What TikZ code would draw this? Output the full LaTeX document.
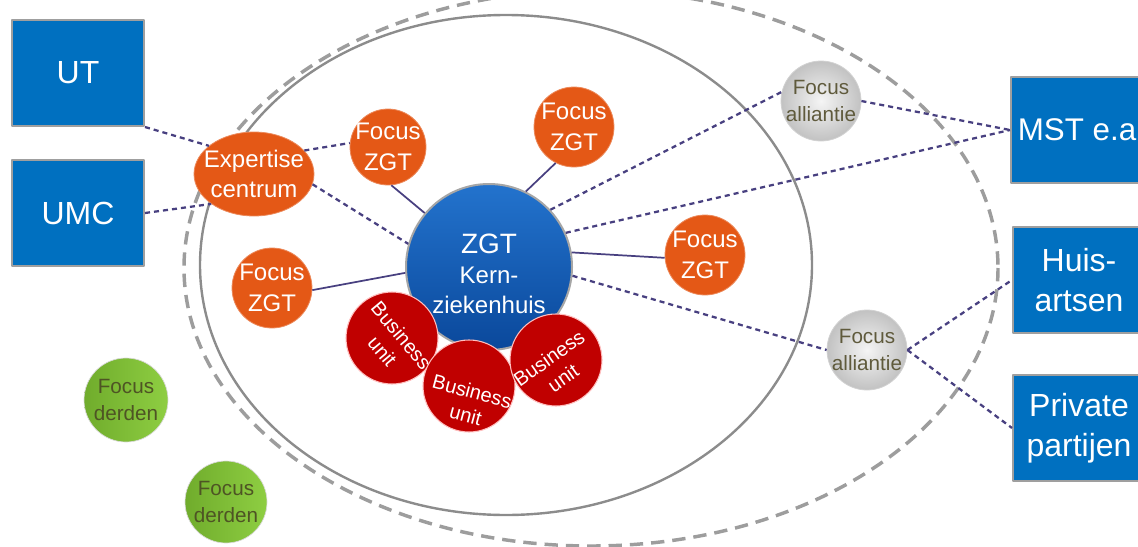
\documentclass[tikz,border=0pt]{standalone}
\usepackage{fontspec}
\setmainfont{Liberation Sans}
\usetikzlibrary{shapes.geometric}

\definecolor{boxblue}{RGB}{0,112,192}
\definecolor{zgttop}{RGB}{35,115,205}
\definecolor{zgtbot}{RGB}{10,72,155}
\definecolor{focusorange}{RGB}{228,88,22}
\definecolor{unitred}{RGB}{192,0,0}
\definecolor{linkpurple}{RGB}{72,64,128}
\definecolor{ringgray}{RGB}{140,140,140}
\definecolor{allytext}{RGB}{95,90,60}
\definecolor{greenlo}{RGB}{112,172,44}
\definecolor{greenhi}{RGB}{142,206,66}
\definecolor{derdentext}{RGB}{78,84,36}

\tikzset{
  orgbox/.style={rectangle, fill=boxblue, draw=gray!75, line width=1.5pt,
    minimum width=99pt, minimum height=79.5pt, inner sep=0pt,
    text=white, align=center, font=\fontsize{24}{30}\selectfont},
  focusnode/.style={circle, fill=focusorange, draw=focusorange!70!white,
    line width=0.6pt, minimum size=60pt, inner sep=0pt},
  ftxt/.style={text=white, align=center, font=\fontsize{18}{23}\selectfont},
  ztxt/.style={text=white, align=center, font=\fontsize{18}{22.5}\selectfont},
  unitnode/.style={circle, fill=unitred, draw=red!25, line width=0.8pt,
    minimum size=69pt, inner sep=0pt},
  utxt/.style={text=white, align=center, font=\fontsize{15}{18.5}\selectfont},
  allynode/.style={circle, inner color=gray!8, outer color=gray!48,
    draw=gray!35, line width=0.6pt, minimum size=60pt, inner sep=0pt},
  atxt/.style={text=allytext, align=center, font=\fontsize{15.5}{20}\selectfont},
  thirdnode/.style={circle, left color=greenlo, right color=greenhi,
    draw=gray!30, line width=0.5pt, minimum size=62pt, inner sep=0pt},
  dtxt/.style={text=derdentext, align=center, font=\fontsize{15.5}{20}\selectfont},
  dashlink/.style={linkpurple, line width=1.7pt, dash pattern=on 3.8pt off 3pt},
  solidlink/.style={linkpurple, line width=1.3pt},
}

\begin{document}
\begin{tikzpicture}[x=0.75pt,y=-0.75pt,line join=round]
  \useasboundingbox (0,0) rectangle (1138,546);
  \clip (0,0) rectangle (1138,546);
  % outer (dashed) and inner (solid) ring
  \draw[ringgray!85!white, line width=2.6pt, dash pattern=on 10pt off 6pt]
    (591,268) ellipse [x radius=407, y radius=278];
  \draw[ringgray, line width=1.8pt] (506,265) ellipse [x radius=306, y radius=250];

  % partners
  \node[orgbox] (UT) at (78,73) {UT};
  \node[orgbox] (UMC) at (78,213) {UMC};
  \node[orgbox, font=\fontsize{23.5}{29}\selectfont] (MST) at (1077,130) {MST e.a};
  \node[orgbox] (huis) at (1079,280) {Huis-\\artsen};
  \node[orgbox] (priv) at (1079,428) {Private\\partijen};

  % core hospital with business units on top
  \node[circle, top color=zgttop, bottom color=zgtbot, draw=gray!70, line width=1.5pt,
    minimum size=124.5pt, inner sep=0pt,
    label={[ztxt, yshift=-5pt]center:{{\fontsize{21}{22.5}\selectfont ZGT}\\Kern-\\ziekenhuis}}]
    (zgt) at (489,267) {};
  \foreach \n/\x/\y/\r/\s in {bu1/392/338/-50/-4, bu2/469/386/-15/-13, bu3/556/360/35/-6}
    \node[unitnode, label={[utxt, yshift=\s pt, rotate=\r]center:{Business\\unit}}]
      (\n) at (\x,\y) {};

  % focus fields
  \foreach \n/\x/\y/\d in {fz1/388/147/57, fz2/574/127/60, fz3/705/255/60, fz4/272/288/60}
    \node[focusnode, minimum size=\d pt, label={[ftxt]center:{Focus\\ZGT}}] (\n) at (\x,\y) {};
  \node[focusnode, ellipse, minimum width=90pt, minimum height=63pt,
    label={[ftxt]center:{Expertise\\centrum}}] (expert) at (254,174) {};

  % alliances and third parties
  \foreach \n/\x/\y in {fa1/821/101, fa2/867/350}
    \node[allynode, label={[atxt]center:{Focus\\alliantie}}] (\n) at (\x,\y) {};
  \foreach \n/\x/\y/\d in {fd1/126/400/63, fd2/226/502/61.5}
    \node[thirdnode, minimum size=\d pt, label={[dtxt]center:{Focus\\derden}}] (\n) at (\x,\y) {};

  % spokes to the focus fields
  \draw[solidlink] (zgt.140) -- (fz1.-85);
  \draw[solidlink] (zgt.64) -- (fz2.243);
  \draw[solidlink] (zgt.10) -- (fz3.184);
  \draw[solidlink] (zgt.184) -- (fz4.-3);

  % dashed cooperation lines
  \draw[dashlink] (UT.south east) -- (expert.148);
  \draw[dashlink] (UMC.east) -- (expert.215);
  \draw[dashlink] (expert.25) -- (fz1.174);
  \draw[dashlink] (expert.-10) -- (zgt.164);
  \draw[dashlink] (zgt.43) -- (fa1.167);
  \draw[dashlink] (zgt.24) -- (MST.west);
  \draw[dashlink] (zgt.-6) -- (fa2.west);
  \draw[dashlink] (fa1.east) -- (MST.west);
  \draw[dashlink] (fa2.east) -- (huis.west);
  \draw[dashlink] (fa2.east) -- (priv.west);
\end{tikzpicture}
\end{document}
